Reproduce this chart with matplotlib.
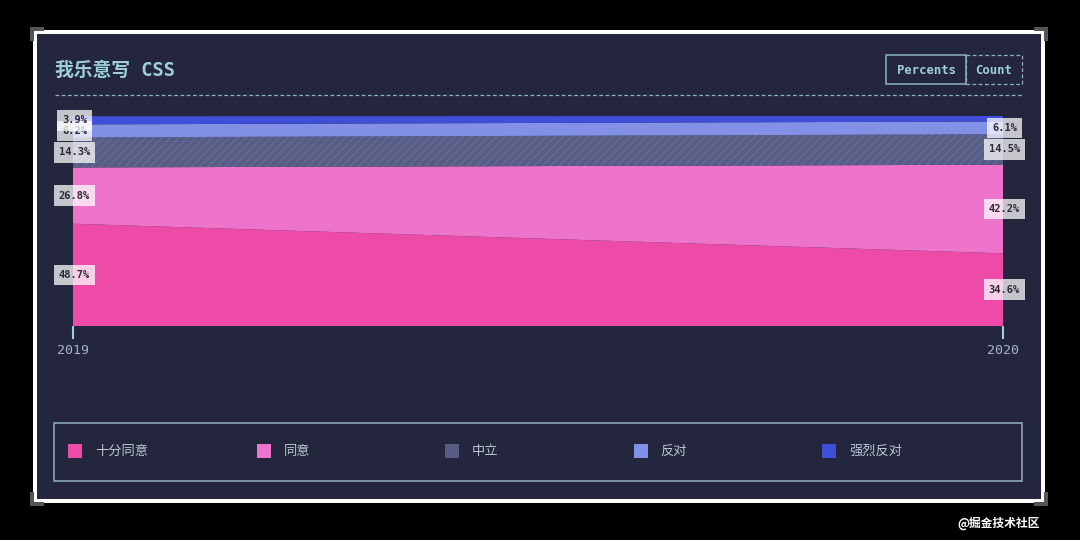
import matplotlib.pyplot as plt
from matplotlib.patches import Rectangle, Polygon

plt.rcParams['font.family'] = ['DejaVu Sans Mono', 'Noto Sans CJK SC']
plt.rcParams['hatch.linewidth'] = 1.1

# 数据
years = [2019, 2020]
series = ['十分同意', '同意', '中立', '反对', '强烈反对']
values = {
    '十分同意': [48.7, 34.6],
    '同意': [26.8, 42.2],
    '中立': [14.3, 14.5],
    '反对': [6.2, 6.1],
    '强烈反对': [3.9, 2.6],
}
# 2020年“强烈反对”的标签被遮住了
show_label = {
    '十分同意': [True, True],
    '同意': [True, True],
    '中立': [True, True],
    '反对': [True, True],
    '强烈反对': [True, False],
}
colors = ['#ee4aa8', '#ee74cb', '#575c84', '#8290e6', '#3f4fd9']
title = '我乐意写 CSS'

W, H = 1080, 540
bg = '#23263d'
teal = '#9fd0d6'
line_c = '#8fb4be'

fig = plt.figure(figsize=(W / 100, H / 100), dpi=100, facecolor='black')

# 背景层（像素坐标）
deco = fig.add_axes([0, 0, 1, 1], zorder=0)
deco.set_xlim(0, W)
deco.set_ylim(H, 0)
deco.axis('off')
deco.add_patch(Rectangle((33, 30), 1012, 473, facecolor='white', edgecolor='none'))
deco.add_patch(Rectangle((37, 34), 1004, 465, facecolor=bg, edgecolor='none'))
for cx, cy, sx, sy in [(30, 27, 1, 1), (1048, 27, -1, 1), (30, 506, 1, -1), (1048, 506, -1, -1)]:
    deco.add_patch(Polygon([(cx, cy), (cx + 14 * sx, cy), (cx + 14 * sx, cy + 4 * sy),
                            (cx + 4 * sx, cy + 4 * sy), (cx + 4 * sx, cy + 14 * sy), (cx, cy + 14 * sy)],
                           facecolor='#555555', edgecolor='none'))

deco.text(55, 70, title, color=teal, fontsize=13.5, fontweight='bold', va='center', ha='left')
deco.plot([55, 1022], [95, 95], color=line_c, lw=0.9, dashes=(3, 2))

# 按钮
deco.add_patch(Rectangle((886, 55), 80, 29, facecolor='none', edgecolor=line_c, lw=1.1))
deco.add_patch(Rectangle((966, 55), 56, 29, facecolor='none', edgecolor=line_c, lw=0.9, linestyle=(0, (3, 2))))
deco.text(926, 70, 'Percents', color=teal, fontsize=8.8, fontweight='bold', ha='center', va='center')
deco.text(994, 70, 'Count', color=teal, fontsize=8.8, fontweight='bold', ha='center', va='center')

# 图例
deco.add_patch(Rectangle((54, 423), 968, 58, facecolor='none', edgecolor='#8aa6b4', lw=1.2))
for i, (name, c) in enumerate(zip(series, colors)):
    x0 = 68 + i * 188.5
    deco.add_patch(Rectangle((x0, 444), 14, 14, facecolor=c, edgecolor='none'))
    deco.text(x0 + 27, 451, name, color='#b8c8d0', fontsize=9.5, ha='left', va='center',
              family=['Noto Sans CJK SC'])

deco.text(1040, 523, '@掘金技术社区', color='white', fontsize=8.5, fontweight='bold',
          ha='right', va='center', family=['Noto Sans CJK SC'])

# 堆叠面积图
ax = fig.add_axes([73 / W, (H - 326) / H, 930 / W, 210 / H], zorder=2)
ax.set_facecolor('none')
polys = ax.stackplot(years, [values[s] for s in series], colors=colors, linewidth=0)
polys[2].set_hatch('////')
polys[2].set_edgecolor('#646a92')
ax.set_xlim(2019, 2020)
ax.set_ylim(0, 100)
for sp in ax.spines.values():
    sp.set_visible(False)
ax.set_yticks([])
ax.set_xticks(years)
ax.set_xticklabels([str(y) for y in years])
ax.tick_params(axis='x', length=9, width=1.5, color='#9fd0d6', pad=4,
               labelcolor='#a4b4c4', labelsize=9.5)

# 数值标签
for j, yr in enumerate(years):
    base = 0
    for s in series:
        v = values[s][j]
        if show_label[s][j]:
            ax.text(yr + 0.0015, base + v / 2, f'{v:.1f}%', ha='center', va='center', fontsize=7.5,
                    fontweight='bold', color='#2b2b38', clip_on=False, zorder=5,
                    bbox=dict(boxstyle='square,pad=0.5', facecolor='white', alpha=0.74,
                              edgecolor='none'))
        base += v

fig.savefig('out.png', dpi=100, facecolor='black')
